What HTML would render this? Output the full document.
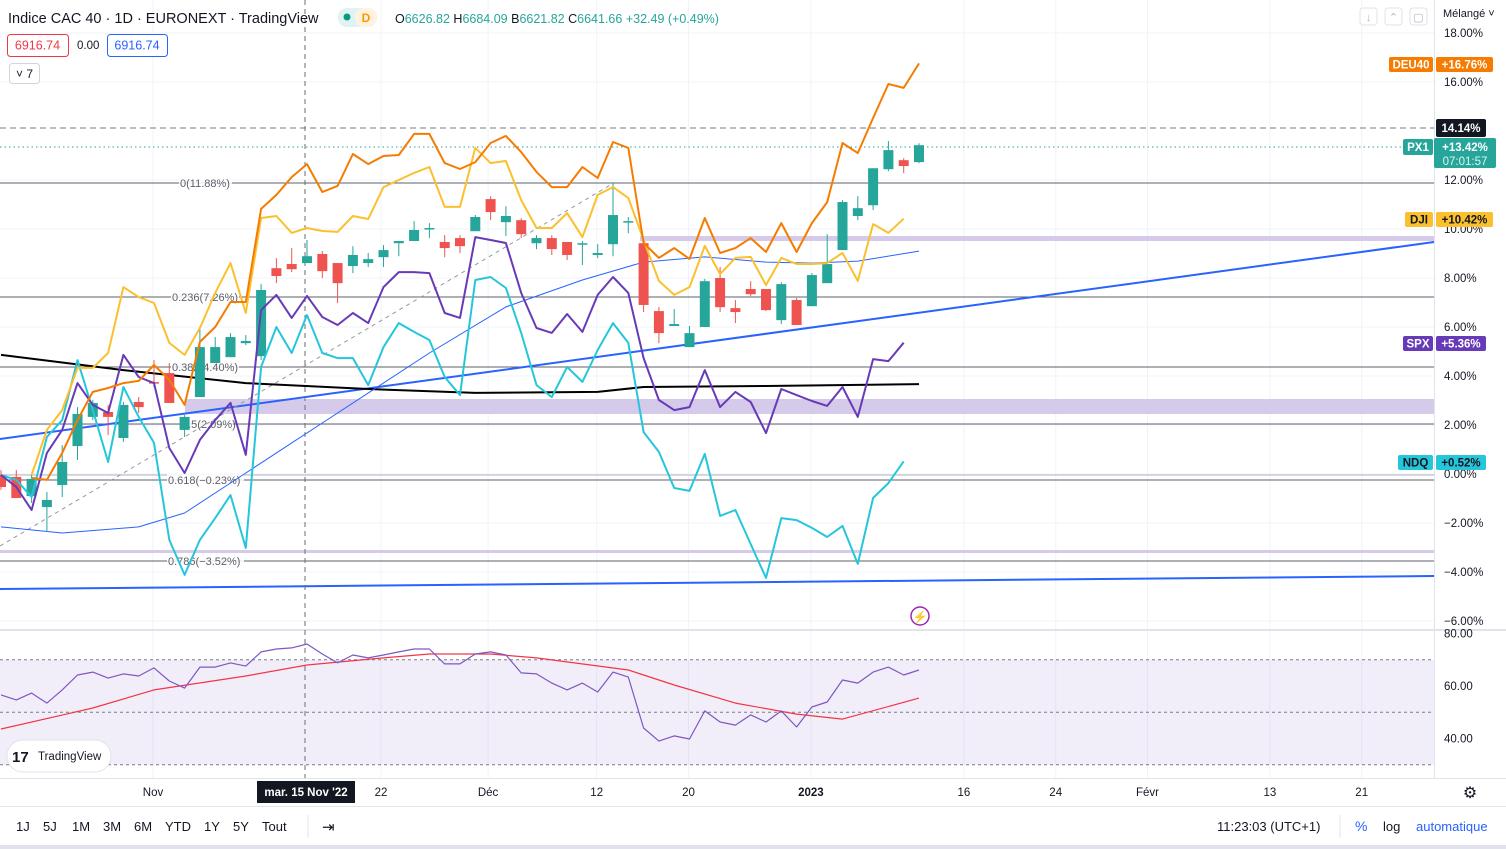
<!DOCTYPE html>
<html><head><meta charset="utf-8">
<style>
html,body{margin:0;padding:0;background:#fff;width:1506px;height:849px;overflow:hidden;font-family:"Liberation Sans",sans-serif;}
svg text{font-family:"Liberation Sans",sans-serif;}
</style></head>
<body>
<svg id="c" width="1506" height="849" viewBox="0 0 1506 849" xmlns="http://www.w3.org/2000/svg">
<rect x="0" y="0" width="1506" height="849" fill="#fff"/>
<g id="grid"></g>
<g id="draw"></g>
<g id="plot"></g>
<g id="axis"></g>
<g id="rsi"></g>
<g id="ui"></g>
</svg>
<script>
// ---------- data ----------
const candleOpen  = [-0.04,-0.12,-0.90,-1.35,-0.45,1.14,2.33,2.53,1.47,2.94,3.75,4.12,1.80,3.14,4.53,4.77,5.34,4.81,8.40,8.57,8.61,8.98,8.61,8.49,8.61,8.85,9.42,9.51,10.00,9.47,9.63,9.91,11.22,10.28,10.36,9.42,9.63,9.47,9.38,8.94,9.38,10.28,9.42,6.65,6.04,5.18,6.00,8.00,6.77,7.55,7.55,6.28,7.10,6.85,7.79,9.14,10.53,10.97,12.44,12.81,12.73];
const candleHigh  = [0.16,0.16,-0.04,-0.73,1.18,2.73,3.02,2.82,2.94,3.14,4.65,4.53,2.41,6.00,5.59,5.75,5.67,7.75,8.81,9.22,9.55,9.10,8.61,9.30,9.02,9.34,9.51,10.32,10.24,9.75,9.75,10.57,11.34,10.93,10.44,9.75,9.75,9.47,9.51,9.38,11.87,10.49,9.42,6.81,6.73,6.04,7.96,8.45,7.10,7.87,7.55,7.83,7.18,8.20,9.79,11.18,11.34,12.48,13.59,12.89,13.50];
const candleLow   = [-0.65,-0.98,-1.18,-2.37,-0.94,0.57,2.20,1.59,1.31,2.49,3.55,2.90,1.51,3.14,4.53,4.77,5.26,4.65,7.79,8.24,8.61,8.00,6.98,8.20,8.45,8.45,8.89,9.51,9.63,8.85,9.02,9.91,10.36,9.71,9.63,9.18,8.94,8.73,8.53,8.81,8.89,9.83,6.61,5.34,6.04,5.18,6.00,6.61,6.16,7.26,6.65,6.12,6.08,6.85,7.79,9.14,10.36,10.77,12.36,12.28,12.69];
const candleClose = [-0.53,-0.98,-0.20,-1.06,0.49,2.45,2.90,2.33,2.82,2.73,3.71,2.90,2.33,5.18,5.18,5.59,5.43,7.51,8.08,8.36,8.89,8.28,7.79,8.94,8.77,9.14,9.51,9.96,10.04,9.22,9.30,10.49,10.69,10.53,9.79,9.63,9.18,8.94,9.42,9.02,10.57,10.32,6.90,5.75,6.12,5.75,7.87,6.81,6.61,7.34,6.69,7.75,6.08,8.12,8.57,11.10,10.85,12.48,13.22,12.57,13.42];
const deu40Start = 2;
const deu40 = [-0.16,-0.24,0.86,2.20,3.35,3.51,3.71,3.80,4.45,3.84,2.82,5.39,6.00,7.02,7.02,10.82,11.39,12.12,12.65,11.51,11.76,13.06,12.65,12.98,13.02,13.88,13.88,12.69,12.45,12.73,13.51,13.80,13.14,12.33,11.71,11.71,12.53,12.08,13.55,13.31,9.43,8.82,9.22,8.78,10.45,9.02,9.22,9.63,9.06,10.24,9.06,10.24,11.10,13.51,13.10,14.53,15.92,15.76,16.76];
const djiStart = 2;
const dji = [-0.04,1.80,2.61,4.33,4.33,4.94,7.63,7.22,6.98,5.35,4.86,5.96,7.39,8.61,6.57,10.45,10.53,9.84,10.04,9.92,9.88,10.53,10.41,11.71,12.00,12.29,12.53,10.90,10.90,13.31,12.69,12.78,11.18,10.04,10.04,10.65,9.67,11.39,11.71,11.27,9.55,7.88,7.31,7.63,9.31,8.16,8.82,8.86,7.71,8.82,8.57,8.57,8.61,9.02,7.88,10.20,9.84,10.42];
const spxStart = 0;
const spx = [-0.04,-0.53,-1.47,0.86,1.80,3.71,2.82,2.49,4.86,3.96,3.71,1.06,0.04,1.39,2.20,2.90,0.78,6.69,7.31,6.37,7.27,6.41,6.08,6.57,6.16,7.63,8.24,8.24,8.20,6.57,6.37,9.67,9.55,9.43,7.39,5.96,5.76,6.53,5.80,7.31,8.04,7.39,4.73,3.02,2.61,2.73,4.24,2.73,3.35,2.94,1.67,3.47,3.22,2.98,2.78,3.55,2.33,4.69,4.61,5.36];
const ndqStart = 0;
const ndq = [-0.04,-0.24,-0.94,1.51,2.20,4.65,2.61,0.49,3.55,2.33,1.27,-2.69,-4.12,-2.69,-1.80,-0.86,-3.02,4.37,6.00,4.94,6.49,4.94,4.73,4.73,3.63,5.18,6.16,5.80,5.47,3.96,3.22,7.92,8.04,7.59,5.76,3.63,3.14,4.37,3.76,5.06,6.16,5.35,1.71,0.90,-0.57,-0.69,0.82,-1.71,-1.47,-2.86,-4.24,-1.80,-1.88,-2.20,-2.57,-2.12,-3.67,-0.98,-0.37,0.52];
const maSlowIdx = [0,8,16,24,31,39,42,50,60];
const maSlow = [4.86,4.24,3.71,3.47,3.31,3.35,3.55,3.59,3.67];
const maFastIdx = [0,4,9,12,16,19,21,28,33,38,42,46,50,53,56,60];
const maFast = [-2.16,-2.41,-2.16,-1.59,0.04,1.27,2.08,4.94,6.82,7.92,8.65,8.86,8.65,8.61,8.69,9.10];
const rsi = [56.6,54.7,57.3,53.5,58.5,64.2,65.3,63.0,64.6,63.8,66.9,61.9,59.2,67.2,67.2,68.8,67.6,73.0,74.1,74.5,76.0,72.2,68.8,71.8,70.7,71.8,73.0,74.1,74.1,68.4,68.4,72.2,73.0,71.8,65.0,64.6,61.1,58.5,61.1,57.7,65.3,63.4,44.0,39.0,41.0,39.8,50.5,46.3,45.1,49.0,46.3,50.5,44.4,52.0,53.9,62.3,61.1,65.3,67.2,64.2,66.1];
const rsiMaIdx = [0,4,6,10,16,20,25,28,32,35,41,44,48,52,55,60];
const rsiMa = [43.6,48.9,51.6,58.5,63.8,68.0,70.7,72.2,72.2,70.7,66.1,60.4,53.5,49.3,47.4,55.4];
const priceTicks = [18,16,12,10,8,6,4,2,0,-2,-4,-6];
const rsiTicks = [80,60,40];
const timeLabels = ["Nov","22","Déc","12","20","2023","16","24","Févr","13","21"];
const timeLabelIdx = [0,14.9,21.9,29,35,43,53,59,65,73,79];

// ---------- scales ----------
const PANE_R = 1434;
function xK(k){return 1 + 15.3*k;}
function yP(v){return 474 - v*24.5;}
function yR(v){return 686 - (v-60)*2.625;}
const NS="http://www.w3.org/2000/svg";
function mk(tag,attrs,parent,text){const e=document.createElementNS(NS,tag);for(const a in attrs)e.setAttribute(a,attrs[a]);if(text!==undefined)e.textContent=text;parent.appendChild(e);return e;}
const G=id=>document.getElementById(id);

// ---------- grid ----------
const grid=G('grid');
priceTicks.forEach(t=>{const l=mk('line',{x1:0,x2:PANE_R,y1:yP(t),y2:yP(t),stroke:'#f0f3fa','stroke-width':1},grid);

});
timeLabelIdx.forEach(k=>{const x=153+xK(k)-1;const l=mk('line',{x1:x,x2:x,y1:0,y2:778,stroke:'#f0f3fa','stroke-width':1},grid);

});

// ---------- drawings ----------
const dr=G('draw');
function bandRect(x,y,w,h,name){const r=mk('rect',{x:x,y:y,width:w,height:h,fill:'#d1c4e9',opacity:0.9},dr);

}
bandRect(185,399,PANE_R-185,15,'support-zone');
bandRect(640,236,PANE_R-640,5,'resistance-zone');
bandRect(0,550,PANE_R,3,'low-zone');
function hline(y,col,name,dash,w){const l=mk('line',{x1:0,x2:PANE_R,y1:y,y2:y,stroke:col,'stroke-width':w||1},dr);if(dash)l.setAttribute('stroke-dasharray',dash);

return l;}
hline(475,'#b2b5be','zero-line');
const fibs=[[183,'0(11.88%)',180,53],[297,'0.236(7.26%)',172,68],[367,'0.382(4.40%)',172,68],[424,'0.5(2.09%)',182,52],[480,'0.618(−0.23%)',168,77],[561,'0.786(−3.52%)',168,77]];
fibs.forEach(f=>{hline(f[0],'#5d606b','fib-level');
mk('rect',{x:f[2]-1,y:f[0]-6,width:f[3],height:12,fill:'#fff','fill-opacity':0.85},dr);
const t=mk('text',{x:f[2],y:f[0]+4,'font-size':11,fill:'#5d606b'},dr,f[1]);

});
hline(128,'#787b86','price-line-14','6,4');
hline(147,'#26a69a','last-price-line','1.5,3');
const tl1=mk('line',{x1:0,y1:439,x2:PANE_R,y2:242,stroke:'#2962ff','stroke-width':2},dr);


const tl2=mk('line',{x1:0,y1:589,x2:PANE_R,y2:576,stroke:'#2962ff','stroke-width':2},dr);


const tl3=mk('line',{x1:0,y1:546,x2:612,y2:184,stroke:'#9598a1','stroke-width':1,'stroke-dasharray':'4,4'},dr);


const ch=mk('line',{x1:305,y1:0,x2:305,y2:778,stroke:'#6a6d78','stroke-width':1,'stroke-dasharray':'5,4'},dr);



// ---------- plot ----------
const plot=G('plot');
function poly(idx,vals,yf,col,w,name,parent){const pts=vals.map((v,i)=>xK(idx[i]).toFixed(1)+','+yf(v).toFixed(1)).join(' ');
const p=mk('polyline',{points:pts,fill:'none',stroke:col,'stroke-width':w,'stroke-linejoin':'round'},parent);

return p;}
function seq(start,n){return Array.from({length:n},(_,i)=>start+i);}
poly(maSlowIdx,maSlow,yP,'#000000',2,'ma-slow',plot);
poly(maFastIdx,maFast,yP,'#2962ff',1,'ma-fast',plot);
candleOpen.forEach((o,k)=>{const c=candleClose[k];const col=c>=o?'#26a69a':'#ef5350';const x=xK(k);
const g=mk('g',{},plot);


mk('line',{x1:x,x2:x,y1:yP(candleHigh[k]),y2:yP(candleLow[k]),stroke:col,'stroke-width':1},g);
const top=yP(Math.max(o,c)),bot=yP(Math.min(o,c));
mk('rect',{x:x-5,y:top,width:10,height:Math.max(1.5,bot-top),fill:col},g);});
poly(seq(ndqStart,ndq.length),ndq,yP,'#26c6da',2,'ndq-line',plot);
poly(seq(spxStart,spx.length),spx,yP,'#673ab7',2,'spx-line',plot);
poly(seq(djiStart,dji.length),dji,yP,'#fbc02d',2,'dji-line',plot);
poly(seq(deu40Start,deu40.length),deu40,yP,'#f57c00',2,'deu40-line',plot);
const al=mk('circle',{cx:920,cy:616,r:9,fill:'#fff',stroke:'#9c27b0','stroke-width':1.5},plot);


mk('text',{x:920,y:621,'font-size':12,fill:'#9c27b0','text-anchor':'middle'},plot,'⚡');

// ---------- price axis ----------
const ax=G('axis');
mk('rect',{x:PANE_R,y:0,width:72,height:778,fill:'#fff'},ax);
mk('line',{x1:PANE_R+0.5,x2:PANE_R+0.5,y1:0,y2:806,stroke:'#e0e3eb'},ax);
priceTicks.forEach(t=>{const s=(t<0?'−'+(-t).toFixed(2):t.toFixed(2))+'%';
const e=mk('text',{x:1444,y:yP(t)+4,'font-size':11.5,fill:'#131722'},ax,s);

});
function tag(x,y,w,h,bg,fg,txt,name){const g=mk('g',{},ax);


mk('rect',{x:x,y:y,width:w,height:h,rx:2,fill:bg},g);
mk('text',{x:x+w/2,y:y+h/2+4,'font-size':11.5,fill:fg,'text-anchor':'middle','font-weight':'bold'},g,txt);}
tag(1389,57,44,15,'#f57c00','#fff','DEU40','deu40-name-tag');
tag(1436,57,57,15,'#f57c00','#fff','+16.76%','deu40-value-tag');
tag(1436,119,50,18,'#131722','#fff','14.14%','crosshair-price-tag');
tag(1403,139,30,16,'#26a69a','#fff','PX1','px1-name-tag');
const pg=mk('g',{},ax);


mk('rect',{x:1434,y:138,width:62,height:30,rx:2,fill:'#26a69a'},pg);
mk('text',{x:1465,y:151,'font-size':11.5,fill:'#fff','text-anchor':'middle','font-weight':'bold'},pg,'+13.42%');
mk('text',{x:1465,y:165,'font-size':11.5,fill:'#e0f2f1','text-anchor':'middle'},pg,'07:01:57');
tag(1405,212,28,15,'#fbc02d','#131722','DJI','dji-name-tag');
tag(1436,212,57,15,'#fbc02d','#131722','+10.42%','dji-value-tag');
tag(1403,336,30,15,'#673ab7','#fff','SPX','spx-name-tag');
tag(1436,336,50,15,'#673ab7','#fff','+5.36%','spx-value-tag');
tag(1398,455,35,15,'#26c6da','#131722','NDQ','ndq-name-tag');
tag(1436,455,50,15,'#26c6da','#131722','+0.52%','ndq-value-tag');
const mel=mk('text',{x:1443,y:17,'font-size':11,fill:'#131722'},ax,'Mélangé ˅');



// ---------- RSI pane ----------
const rp=G('rsi');
mk('line',{x1:0,x2:1506,y1:630,y2:630,stroke:'#e0e3eb','stroke-width':2},rp);
mk('rect',{x:0,y:yR(70),width:PANE_R,height:yR(30)-yR(70),fill:'#7e57c2','fill-opacity':0.1},rp);
[70,50,30].forEach(v=>{const l=mk('line',{x1:0,x2:PANE_R,y1:yR(v),y2:yR(v),stroke:'#787b86','stroke-dasharray':'3,3'},rp);

});
rsiTicks.forEach(v=>{const t=mk('text',{x:1444,y:yR(v)+4,'font-size':11.5,fill:'#131722'},rp,v.toFixed(2));

});
poly(rsiMaIdx,rsiMa,yR,'#f23645',1.2,'rsi-ma-line',rp);
poly(seq(0,rsi.length),rsi,yR,'#7e57c2',1.2,'rsi-line',rp);
mk('line',{x1:305,y1:630,x2:305,y2:778,stroke:'#6a6d78','stroke-dasharray':'5,4'},rp);

// ---------- UI chrome ----------
const ui=G('ui');
mk('rect',{x:0,y:778,width:1506,height:28,fill:'#fff'},ui);
mk('line',{x1:0,x2:1506,y1:778.5,y2:778.5,stroke:'#e0e3eb'},ui);
mk('line',{x1:0,x2:1506,y1:806.5,y2:806.5,stroke:'#e0e3eb'},ui);
timeLabels.forEach((s,i)=>{const t=mk('text',{x:153+xK(timeLabelIdx[i])-1,y:796,'font-size':11.5,fill:'#131722','text-anchor':'middle','font-weight':s==='2023'?'bold':'normal'},ui,s);

});
const cb=mk('g',{},ui);


mk('rect',{x:257,y:781,width:98,height:22,fill:'#131722'},cb);
mk('text',{x:306,y:796,'font-size':11.5,fill:'#fff','text-anchor':'middle','font-weight':'bold'},cb,"mar. 15 Nov '22");
const gear=mk('text',{x:1470,y:798,'font-size':16,fill:'#131722','text-anchor':'middle'},ui,'⚙');


mk('rect',{x:0,y:845,width:1506,height:4,fill:'#e0e3eb'},ui);
const ranges=['1J','5J','1M','3M','6M','YTD','1Y','5Y','Tout'];const rx=[16,43,72,103,134,165,204,233,262];
ranges.forEach((r,i)=>{const t=mk('text',{x:rx[i],y:831,'font-size':13,fill:'#131722'},ui,r);

});
mk('line',{x1:308,x2:308,y1:815,y2:838,stroke:'#e0e3eb'},ui);
const cal=mk('text',{x:322,y:832,'font-size':15,fill:'#131722'},ui,'⇥');


const clk=mk('text',{x:1217,y:831,'font-size':13,fill:'#131722'},ui,'11:23:03 (UTC+1)');


mk('line',{x1:1340,x2:1340,y1:815,y2:838,stroke:'#e0e3eb'},ui);
const pc=mk('text',{x:1355,y:831,'font-size':14,fill:'#2962ff'},ui,'%');


const lg=mk('text',{x:1383,y:831,'font-size':13,fill:'#131722'},ui,'log');


const au=mk('text',{x:1416,y:831,'font-size':13,fill:'#2962ff'},ui,'automatique');


const h=mk('text',{x:8,y:23,'font-size':14.5,fill:'#131722'},ui,'Indice CAC 40 · 1D · EURONEXT · TradingView');


const pill=mk('g',{},ui);


mk('rect',{x:338,y:8,width:39,height:19,rx:9,fill:'#e0f2f1'},pill);
mk('rect',{x:355,y:8,width:22,height:19,rx:9,fill:'#fff3e0'},pill);
mk('circle',{cx:347,cy:17,r:3.5,fill:'#089981'},pill);
mk('text',{x:366,y:22,'font-size':12,fill:'#ff9800','text-anchor':'middle','font-weight':'bold'},pill,'D');
const ohlc=mk('text',{x:395,y:23,'font-size':12.5,fill:'#131722'},ui);


[['O','#131722'],['6626.82 ','#26a69a'],['H','#131722'],['6684.09 ','#26a69a'],['B','#131722'],['6621.82 ','#26a69a'],['C','#131722'],['6641.66 +32.49 (+0.49%)','#26a69a']].forEach(p=>{mk('tspan',{fill:p[1]},ohlc,p[0]);});
function box(x,y,w,h,col,txt,name){const g=mk('g',{},ui);


mk('rect',{x:x+0.5,y:y+0.5,width:w,height:h,rx:3,fill:'#fff',stroke:col},g);
mk('text',{x:x+w/2,y:y+h/2+4.5,'font-size':12.5,fill:col,'text-anchor':'middle'},g,txt);}
box(7,34,61,22,'#f23645','6916.74','input-value-red');
const zz=mk('text',{x:77,y:49,'font-size':11.5,fill:'#131722'},ui,'0.00');


box(107,34,60,22,'#2962ff','6916.74','input-value-blue');
box(9,63,30,20,'#d1d4dc','',"indicators-toggle");
mk('text',{x:16,y:78,'font-size':12,fill:'#131722'},ui,'˅ 7');
[[1360,'↓'],[1385,'⌃'],[1410,'▢']].forEach((ic,i)=>{const g=mk('g',{},ui);


mk('rect',{x:ic[0],y:8,width:17,height:17,rx:3,fill:'#fff',stroke:'#e0e3eb'},g);
mk('text',{x:ic[0]+8.5,y:21,'font-size':11,fill:'#b2b5be','text-anchor':'middle'},g,ic[1]);});
const lo=mk('g',{},ui);


mk('rect',{x:7,y:740,width:104,height:32,rx:16,fill:'#fff',stroke:'#e0e3eb'},lo);
mk('text',{x:12,y:762,'font-size':15,fill:'#131722','font-weight':'bold'},lo,'17');
mk('text',{x:38,y:760,'font-size':11.5,fill:'#131722'},lo,'TradingView');
</script>
</body></html>
